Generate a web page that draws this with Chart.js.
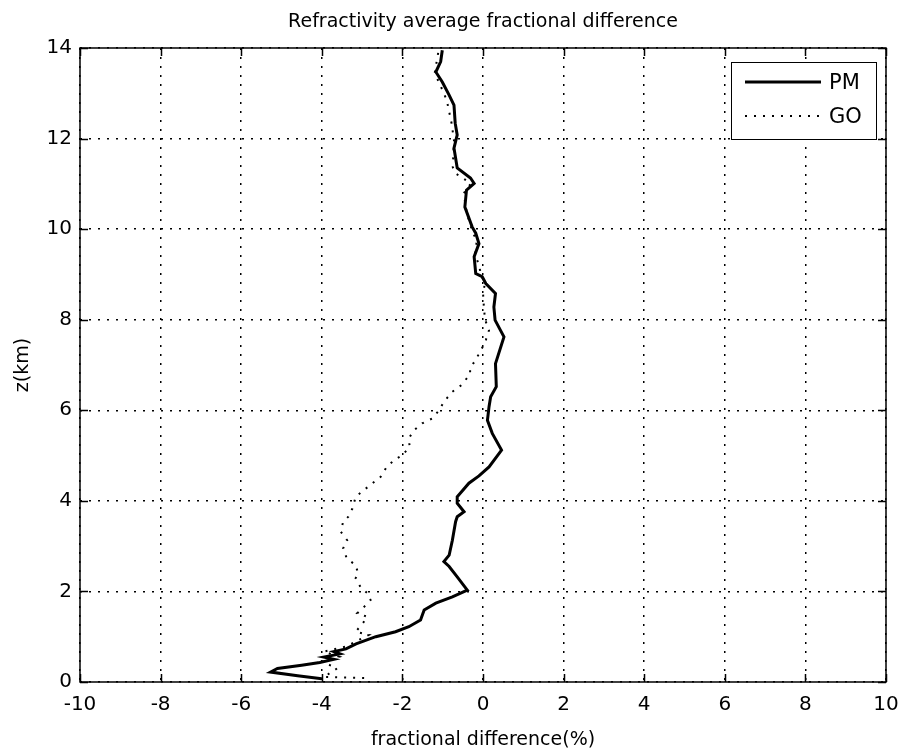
<!DOCTYPE html>
<html>
<head>
<meta charset="utf-8">
<title>Refractivity average fractional difference</title>
<script src="https://cdn.jsdelivr.net/npm/chart.js@4/dist/chart.umd.min.js"></script>
<style>
  html, body { margin: 0; padding: 0; background: #fff; }
  #wrap { width: 901px; height: 751px; }
</style>
</head>
<body>
<div id="wrap"><canvas id="myChart" width="901" height="751"></canvas></div>
<script>
// PM profile: fractional difference (%) against height (km)
const pmDiff = [-4.0, -4.6, -5.27, -5.1, -4.5, -4.05, -3.7, -3.95, -3.55, -3.7, -3.4, -3.15, -2.66, -2.17,
  -1.84, -1.55, -1.46, -1.17, -0.76, -0.39, -0.64, -0.84, -0.97, -0.84, -0.76, -0.68, -0.64, -0.47, -0.64,
  -0.64, -0.35, -0.1, 0.15, 0.46, 0.23, 0.11, 0.15, 0.19, 0.33, 0.31, 0.52, 0.3, 0.27, 0.31, 0.07, -0.02,
  -0.18, -0.22, -0.1, -0.18, -0.27, -0.45, -0.41, -0.22, -0.31, -0.64, -0.72, -0.64, -0.69, -0.72, -0.84,
  -1.01, -1.17, -1.05, -1.01];
const pmHeight = [0.07, 0.14, 0.22, 0.3, 0.37, 0.43, 0.5, 0.55, 0.62, 0.67, 0.73, 0.84, 1.0, 1.11,
  1.22, 1.37, 1.59, 1.74, 1.88, 2.03, 2.32, 2.55, 2.66, 2.8, 3.13, 3.54, 3.65, 3.76, 3.95,
  4.09, 4.39, 4.55, 4.75, 5.12, 5.49, 5.78, 6.08, 6.3, 6.52, 7.03, 7.62, 7.99, 8.28, 8.58, 8.8, 8.95,
  9.02, 9.39, 9.68, 9.91, 10.05, 10.49, 10.86, 11.01, 11.13, 11.35, 11.79, 12.08, 12.34, 12.74, 12.96,
  13.25, 13.47, 13.7, 13.95];

// GO profile
const goDiff = [-2.95, -3.95, -3.62, -3.99, -3.57, -3.95, -3.41, -3.08, -2.83, -3.16, -2.98, -2.87, -3.12,
  -2.95, -2.79, -2.87, -3.04, -3.16, -3.1, -3.16, -3.38, -3.47, -3.37, -3.53, -3.47, -3.34, -3.24, -3.16,
  -2.91, -2.54, -2.41, -2.21, -2.0, -1.82, -1.84, -1.71, -1.51, -1.26, -1.09, -0.97, -0.76, -0.53, -0.32,
  -0.32, -0.16, -0.03, 0.07, 0.15, 0.05, 0.02, 0.0, 0.05, -0.05, -0.1, -0.2, -0.15, -0.25, -0.4, -0.48,
  -0.3, -0.68, -0.75, -0.72, -0.78, -0.9, -1.08, -1.2, -1.15, -1.1];
const goHeight = [0.09, 0.11, 0.3, 0.45, 0.56, 0.67, 0.78, 0.93, 1.04, 1.11, 1.3, 1.44, 1.52,
  1.66, 1.81, 1.96, 2.1, 2.29, 2.4, 2.58, 2.73, 2.95, 3.13, 3.32, 3.54, 3.65, 3.83, 4.09,
  4.27, 4.53, 4.72, 4.9, 5.01, 5.19, 5.38, 5.56, 5.71, 5.82, 6.0, 6.19, 6.41, 6.56, 6.8,
  6.92, 7.15, 7.36, 7.55, 7.77, 8.0, 8.3, 8.6, 8.8, 9.0, 9.2, 9.46, 9.76, 9.91, 10.35, 10.79,
  11.01, 11.23, 11.37, 11.96, 12.34, 12.85, 13.22, 13.44, 13.7, 13.95];

const seriesNames = ["PM", "GO"];
const xTicks = [-10, 10, 2];   // min, max, step
const yTicks = [0, 14, 2];

const FONT = "'DejaVu Sans', sans-serif";

function toPoints(xs, ys) {
  return xs.map((v, i) => ({ x: v, y: ys[i] }));
}

// box round the plot, ticks pointing inwards, title and legend
const framePlugin = {
  id: "frame",
  afterDraw(chart) {
    const ctx = chart.ctx;
    const a = chart.chartArea;
    const xs = chart.scales.x, ys = chart.scales.y;
    ctx.save();
    ctx.strokeStyle = "#000";
    ctx.lineWidth = 1.5;
    ctx.setLineDash([]);
    ctx.strokeRect(a.left, a.top, a.right - a.left, a.bottom - a.top);

    const tl = 8;
    ctx.beginPath();
    xs.ticks.forEach(t => {
      const p = Math.round(xs.getPixelForValue(t.value)) + 0.5;
      ctx.moveTo(p, a.bottom); ctx.lineTo(p, a.bottom - tl);
      ctx.moveTo(p, a.top); ctx.lineTo(p, a.top + tl);
    });
    ys.ticks.forEach(t => {
      const p = Math.round(ys.getPixelForValue(t.value)) + 0.5;
      ctx.moveTo(a.left, p); ctx.lineTo(a.left + tl, p);
      ctx.moveTo(a.right, p); ctx.lineTo(a.right - tl, p);
    });
    ctx.stroke();

    // title
    ctx.fillStyle = "#000";
    ctx.font = "19px " + FONT;
    ctx.textAlign = "center";
    ctx.textBaseline = "middle";
    ctx.fillText("Refractivity average fractional difference", (a.left + a.right) / 2, 22);

    // legend
    const bx = a.right - 155, by = a.top + 14, bw = 145, bh = 77;
    ctx.fillStyle = "#fff";
    ctx.fillRect(bx, by, bw, bh);
    ctx.lineWidth = 1;
    ctx.strokeRect(bx + 0.5, by + 0.5, bw, bh);
    const rows = [by + 20, by + 54];
    chart.data.datasets.forEach((ds, i) => {
      ctx.strokeStyle = ds.borderColor;
      ctx.lineWidth = ds.borderWidth;
      ctx.setLineDash(ds.borderDash || []);
      ctx.beginPath();
      ctx.moveTo(bx + 14, rows[i]);
      ctx.lineTo(bx + 90, rows[i]);
      ctx.stroke();
      ctx.setLineDash([]);
      ctx.fillStyle = "#000";
      ctx.font = "21px " + FONT;
      ctx.textAlign = "left";
      ctx.fillText(ds.label, bx + 98, rows[i] + 2);
    });
    ctx.restore();
  }
};

new Chart(document.getElementById("myChart"), {
  type: "scatter",
  data: {
    datasets: [
      {
        label: seriesNames[0],
        data: toPoints(pmDiff, pmHeight),
        showLine: true,
        borderColor: "#000",
        borderWidth: 3,
        pointRadius: 0,
        tension: 0
      },
      {
        label: seriesNames[1],
        data: toPoints(goDiff, goHeight),
        showLine: true,
        borderColor: "#000",
        borderWidth: 2,
        borderDash: [2, 7],
        pointRadius: 0,
        tension: 0
      }
    ]
  },
  options: {
    responsive: false,
    animation: false,
    layout: { padding: { top: 48, right: 15, left: 0, bottom: 0 } },
    plugins: {
      legend: { display: false },
      tooltip: { enabled: false }
    },
    scales: {
      x: {
        type: "linear",
        min: xTicks[0], max: xTicks[1],
        afterFit: s => { s.height = 69; s.paddingLeft = 0; s.paddingRight = 0; },
        ticks: { stepSize: xTicks[2], color: "#000", font: { family: FONT, size: 20 }, padding: 11, maxRotation: 0 },
        grid: { color: "#000", lineWidth: 1.5, drawTicks: false },
        border: { display: false, dash: [2, 7] },
        title: { display: true, text: "fractional difference(%)", color: "#000", font: { family: FONT, size: 19 }, padding: { top: 0, bottom: 0 } }
      },
      y: {
        type: "linear",
        min: yTicks[0], max: yTicks[1],
        afterFit: s => { s.width = 80; s.paddingTop = 0; s.paddingBottom = 0; },
        ticks: { stepSize: yTicks[2], color: "#000", font: { family: FONT, size: 20 }, padding: 8 },
        grid: { color: "#000", lineWidth: 1.5, drawTicks: false },
        border: { display: false, dash: [2, 7] },
        title: { display: true, text: "z(km)", color: "#000", font: { family: FONT, size: 19 }, padding: { top: 12, bottom: 0 } }
      }
    }
  },
  plugins: [framePlugin]
});
</script>
</body>
</html>
